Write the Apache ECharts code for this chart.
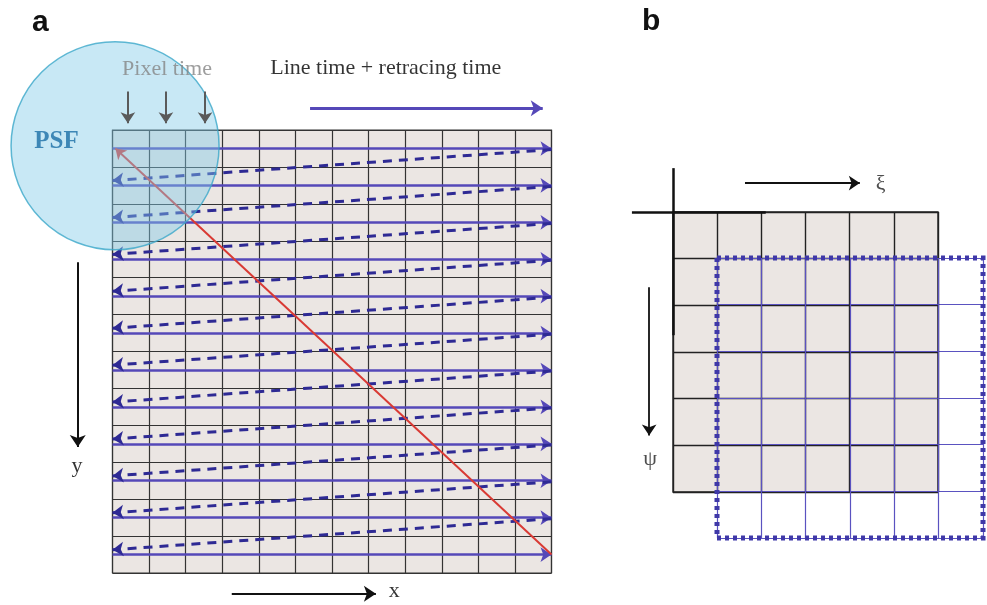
<!DOCTYPE html>
<html>
<head>
<meta charset="utf-8">
<script src="https://cdn.jsdelivr.net/npm/echarts@6/dist/echarts.min.js"></script>
<style>
  html, body { margin: 0; padding: 0; background: #ffffff; }
  #main { width: 987px; height: 605px; }
</style>
</head>
<body>
<div id="main"></div>
<script>
// ---------- Panel a : raster scan ----------
const scanCols = 12;
const scanRows = 12;
const scanLineY = [0.5, 1.5, 2.5, 3.5, 4.5, 5.5, 6.5, 7.5, 8.5, 9.5, 10.5, 11.5];
const retraceFromY = [0.53, 1.53, 2.53, 3.53, 4.53, 5.53, 6.53, 7.53, 8.53, 9.53, 10.53];
const retraceToY = [1.37, 2.37, 3.37, 4.37, 5.37, 6.37, 7.37, 8.37, 9.37, 10.37, 11.37];
const diagonalPath = [[12, 11.5], [0.08, 0.5]];
const psfCenter = [0.07, 0.43];
const pixelTimeArrowX = [0.42, 1.46, 2.53];
const pixelTimeArrowY = [-1.04, -0.18];
const lineTimeArrow = [[5.4, -0.59], [11.76, -0.59]];
const yDirArrow = [[-0.95, 3.58], [-0.95, 8.59]];
const xDirArrow = [[3.26, 12.56], [7.2, 12.56]];
const panelALabels = [
  { name: 'Pixel time', value: [1.49, -1.65] },
  { name: 'Line time + retracing time', value: [7.47, -1.68] },
  { name: 'y', value: [-0.97, 9.12] },
  { name: 'x', value: [7.7, 12.5] }
];
const psfLabel = [{ name: 'PSF', value: [-1.53, 0.31] }];

// ---------- Panel b : shifted grid ----------
const refCols = 6;
const refRows = 6;
const shiftedBorder = [[0, 0], [6, 0], [6, 6], [0, 6], [0, 0]];
const refAxisV = [[0, -0.94], [0, 2.64]];
const refAxisH = [[-0.93, 0], [2.1, 0]];
const xiArrow = [[1.63, -0.62], [4.23, -0.62]];
const psiArrow = [[-0.54, 1.61], [-0.54, 4.79]];
const panelBLabels = [
  { name: 'ξ', value: [4.7, -0.6] },
  { name: 'ψ', value: [-0.52, 5.3] }
];

const SERIF = 'Liberation Serif';
const CELL = '#ebe6e3';
const SOLID = '#5548b8';
const DASH = '#2e2a94';

function makeAxes(idx, max, color, width, inverse) {
  return {
    gridIndex: idx, type: 'value', min: 0, max: max, interval: 1, inverse: !!inverse, z: 1,
    axisLine: { show: false }, axisTick: { show: false }, axisLabel: { show: false },
    splitLine: { show: true, lineStyle: { color: color, width: width } }
  };
}

const scanSolidData = scanLineY.map(y => ({ coords: [[0, y], [scanCols, y]] }));
const retraceData = retraceFromY.map((y, i) => ({ coords: [[scanCols, y], [0, retraceToY[i]]] }));

const option = {
  animation: false,
  backgroundColor: '#ffffff',
  title: [
    { text: 'a', left: 27, top: 3, textStyle: { fontFamily: 'Liberation Sans', fontWeight: 'bold', fontSize: 30, color: '#111' } },
    { text: 'b', left: 637, top: 2, textStyle: { fontFamily: 'Liberation Sans', fontWeight: 'bold', fontSize: 30, color: '#111' } }
  ],
  grid: [
    { left: 112.5, top: 130, width: 439, height: 443, show: true, backgroundColor: CELL, borderColor: '#333', borderWidth: 1.2, z: 0 },
    { left: 673, top: 212, width: 265, height: 280, show: true, backgroundColor: CELL, borderColor: '#222', borderWidth: 1.4, z: 0 },
    { left: 717, top: 258, width: 266, height: 280, show: false, z: 0 }
  ],
  xAxis: [
    makeAxes(0, scanCols, '#333', 1.2, false),
    makeAxes(1, refCols, '#222', 1.4, false),
    makeAxes(2, refCols, '#5a52c0', 1.2, false)
  ],
  yAxis: [
    makeAxes(0, scanRows, '#333', 1.2, true),
    makeAxes(1, refRows, '#222', 1.4, true),
    makeAxes(2, refRows, '#5a52c0', 1.2, true)
  ],
  series: [
    // solid scan lines
    {
      type: 'lines', coordinateSystem: 'cartesian2d', xAxisIndex: 0, yAxisIndex: 0, clip: false,
      symbol: ['none', 'arrow'], symbolSize: 11, z: 3,
      lineStyle: { color: SOLID, width: 2.6, opacity: 1 },
      data: scanSolidData
    },
    // dashed retrace lines
    {
      type: 'lines', coordinateSystem: 'cartesian2d', xAxisIndex: 0, yAxisIndex: 0, clip: false,
      symbol: ['none', 'arrow'], symbolSize: 11, z: 3,
      lineStyle: { color: DASH, width: 3, type: [9, 7], opacity: 1 },
      data: retraceData
    },
    // red diagonal return
    {
      type: 'lines', coordinateSystem: 'cartesian2d', xAxisIndex: 0, yAxisIndex: 0, clip: false,
      symbol: ['none', 'arrow'], symbolSize: 10, z: 4,
      lineStyle: { color: '#d93a34', width: 2, opacity: 1 },
      data: [{ coords: diagonalPath }]
    },
    // pixel time arrows (gray), drawn above the PSF disc
    {
      type: 'lines', coordinateSystem: 'cartesian2d', xAxisIndex: 0, yAxisIndex: 0, clip: false,
      symbol: ['none', 'arrow'], symbolSize: 11, z: 6,
      lineStyle: { color: '#5a5a5a', width: 2, opacity: 1 },
      data: pixelTimeArrowX.map(x => ({ coords: [[x, pixelTimeArrowY[0]], [x, pixelTimeArrowY[1]]] }))
    },
    // line time arrow (purple)
    {
      type: 'lines', coordinateSystem: 'cartesian2d', xAxisIndex: 0, yAxisIndex: 0, clip: false,
      symbol: ['none', 'arrow'], symbolSize: 12, z: 3,
      lineStyle: { color: SOLID, width: 3, opacity: 1 },
      data: [{ coords: lineTimeArrow }]
    },
    // x / y direction arrows (black)
    {
      type: 'lines', coordinateSystem: 'cartesian2d', xAxisIndex: 0, yAxisIndex: 0, clip: false,
      symbol: ['none', 'arrow'], symbolSize: 12, z: 3,
      lineStyle: { color: '#111', width: 2, opacity: 1 },
      data: [{ coords: yDirArrow }, { coords: xDirArrow }]
    },
    // PSF circle
    {
      type: 'scatter', xAxisIndex: 0, yAxisIndex: 0, clip: false, z: 5,
      symbol: 'circle', symbolSize: 208, silent: true,
      itemStyle: { color: 'rgba(130,202,232,0.55)', borderColor: '#3ba7c9', borderWidth: 1.5 },
      data: [psfCenter]
    },
    // panel a texts
    {
      type: 'scatter', xAxisIndex: 0, yAxisIndex: 0, clip: false, z: 6,
      symbolSize: 1, itemStyle: { color: 'rgba(0,0,0,0)' },
      label: { show: true, position: 'inside', formatter: '{b}', fontFamily: SERIF, fontSize: 22, color: '#000' },
      data: panelALabels.map((d, i) => i === 0 ? Object.assign({}, d, { label: { color: '#858585' } }) : d)
    },
    {
      type: 'scatter', xAxisIndex: 0, yAxisIndex: 0, clip: false, z: 7,
      symbolSize: 1, itemStyle: { color: 'rgba(0,0,0,0)' },
      label: { show: true, position: 'inside', formatter: '{b}', fontFamily: SERIF, fontWeight: 'bold', fontSize: 25, color: '#1a6ea6' },
      data: psfLabel
    },
    // panel b : dotted border of shifted grid
    {
      type: 'lines', coordinateSystem: 'cartesian2d', xAxisIndex: 2, yAxisIndex: 2, clip: false,
      polyline: true, symbol: ['none', 'none'], z: 4, silent: true,
      lineStyle: { color: '#3f38a8', width: 5, type: [4, 4], cap: 'butt', opacity: 1 },
      data: [{ coords: shiftedBorder }]
    },
    // panel b : thick reference axes
    {
      type: 'lines', coordinateSystem: 'cartesian2d', xAxisIndex: 1, yAxisIndex: 1, clip: false,
      symbol: ['none', 'none'], z: 3,
      lineStyle: { color: '#111', width: 2.5, opacity: 1 },
      data: [{ coords: refAxisV }, { coords: refAxisH }]
    },
    // xi / psi arrows
    {
      type: 'lines', coordinateSystem: 'cartesian2d', xAxisIndex: 1, yAxisIndex: 1, clip: false,
      symbol: ['none', 'arrow'], symbolSize: 11, z: 3,
      lineStyle: { color: '#111', width: 1.8, opacity: 1 },
      data: [{ coords: xiArrow }, { coords: psiArrow }]
    },
    {
      type: 'scatter', xAxisIndex: 1, yAxisIndex: 1, clip: false, z: 6,
      symbolSize: 1, itemStyle: { color: 'rgba(0,0,0,0)' },
      label: { show: true, position: 'inside', formatter: '{b}', fontFamily: SERIF, fontSize: 22, color: '#222' },
      data: panelBLabels
    }
  ]
};

const chart = echarts.init(document.getElementById('main'), null, { renderer: 'canvas' });
chart.setOption(option);
</script>
</body>
</html>
